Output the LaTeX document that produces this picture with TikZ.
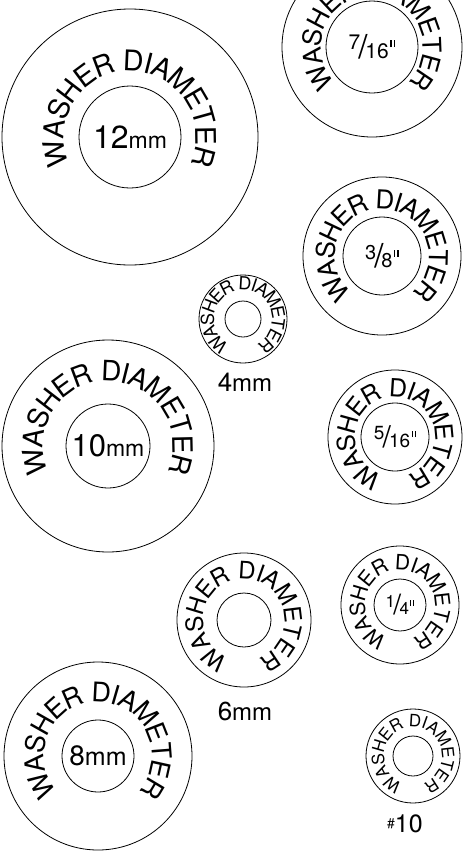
\documentclass[tikz,border=0pt]{standalone}
\usepackage{fontspec}
\setmainfont{TeX Gyre Heros}
\newcommand\fsz[1]{\fontsize{#1}{#1}\selectfont}
\newcommand\inchmark{\kern0.07em\rule[0.55em]{0.07em}{0.32em}\kern0.1em\rule[0.55em]{0.07em}{0.32em}}
\newcommand\inchfrac[4]{\fsz{#3}\raisebox{0.42em}{#1}\kern-0.1em{\fsz{#4}/}\kern-0.1em#2\inchmark}
% letters round a washer: name, centre, baseline radius, start angle, span, font size
\newcommand\ringtext[6]{%
  \foreach \lt/\off [count=\i] in {W/472,A/1277.5,S/1944.5,H/2639,E/3333.5,R/4028,
      D/5028,I/5528,A/6000.5,M/6750.5,E/7500.5,T/8139.5,E/8778.5,R/9473}{
    \pgfmathsetmacro\ang{#4-\off/9834*#5}
    \node[ringchar, font=\fsz{#6}, rotate=\ang-90] (#1-\i) at ([shift={(\ang:#3pt)}]#2) {\lt};
  }}

\begin{document}
\begin{tikzpicture}[
  x=1pt, y=1pt,
  rim/.style={draw=black, line width=0.8pt},
  ringchar/.style={inner sep=0pt, outer sep=0pt, anchor=base},
  size/.style={inner sep=0pt, outer sep=0pt}
]
\useasboundingbox (0,0) rectangle (474,-852);
\fill[white] (0,0) rectangle (474,-852);
\clip (0,0) rectangle (474,-852);

% washer centres
\coordinate (w12) at (130,-137);
\coordinate (w716) at (372,-47);
\coordinate (w38) at (382,-256);
\coordinate (w4) at (243,-319);
\coordinate (w10) at (108,-446);
\coordinate (w516) at (395,-437);
\coordinate (w6) at (244,-620);
\coordinate (w14) at (400,-605);
\coordinate (w8) at (98,-756);
\coordinate (wn10) at (413,-756);

% 12 mm
\draw[rim] (w12) circle[radius=128pt] (w12) circle[radius=51pt];
\ringtext{t12}{w12}{66}{203.5}{227}{28.5}
\node[size] (l12) at (w12) {\fsz{32}12\fsz{23}mm};

% 7/16 in
\draw[rim] (w716) circle[radius=90pt] (w716) circle[radius=46pt];
\ringtext{t716}{w716}{51}{224}{268}{26}
\node[size] (l716) at (w716) {\inchfrac{7}{16}{21}{33}};

% 3/8 in
\draw[rim] (w38) circle[radius=79pt] (w38) circle[radius=39pt];
\ringtext{t38}{w38}{47}{229.5}{279}{26}
\node[size] (l38) at (w38) {\inchfrac{3}{8}{20}{33}};

% 4 mm
\draw[rim] (w4) circle[radius=44pt] (w4) circle[radius=18pt];
\ringtext{t4}{w4}{29}{240}{300}{18}
\node[size] (l4) at (245,-382) {\fsz{26}4\fsz{24}mm};

% 10 mm
\draw[rim] (w10) circle[radius=106pt] (w10) circle[radius=42pt];
\ringtext{t10}{w10}{65}{203}{226}{28}
\node[size] (l10) at (w10) {\fsz{31}10\fsz{23}mm};

% 5/16 in
\draw[rim] (w516) circle[radius=67pt] (w516) circle[radius=34pt];
\ringtext{t516}{w516}{40}{251}{322}{25}
\node[size] (l516) at (w516) {\inchfrac{5}{16}{19}{30}};

% 6 mm
\draw[rim] (w6) circle[radius=67pt] (w6) circle[radius=27pt];
\ringtext{t6}{w6}{41}{248}{316}{24}
\node[size] (l6) at (245,-711) {\fsz{26}6\fsz{24}mm};

% 1/4 in
\draw[rim] (w14) circle[radius=59pt] (w14) circle[radius=26pt];
\ringtext{t14}{w14}{35}{248.5}{317}{21}
\node[size] (l14) at (w14) {\inchfrac{1}{4}{17}{28}};

% 8 mm
\draw[rim] (w8) circle[radius=94pt] (w8) circle[radius=36pt];
\ringtext{t8}{w8}{54}{220.5}{261}{27}
\node[size] (l8) at (w8) {\fsz{28}8\fsz{25}mm};

% no. 10
\draw[rim] (wn10) circle[radius=47pt] (wn10) circle[radius=20pt];
\ringtext{tn10}{wn10}{29}{249}{318}{17}
\node[size] (ln10) at (405,-824) {\raisebox{0.45em}{\fsz{14}\#}\fsz{25}10};

\end{tikzpicture}
\end{document}
